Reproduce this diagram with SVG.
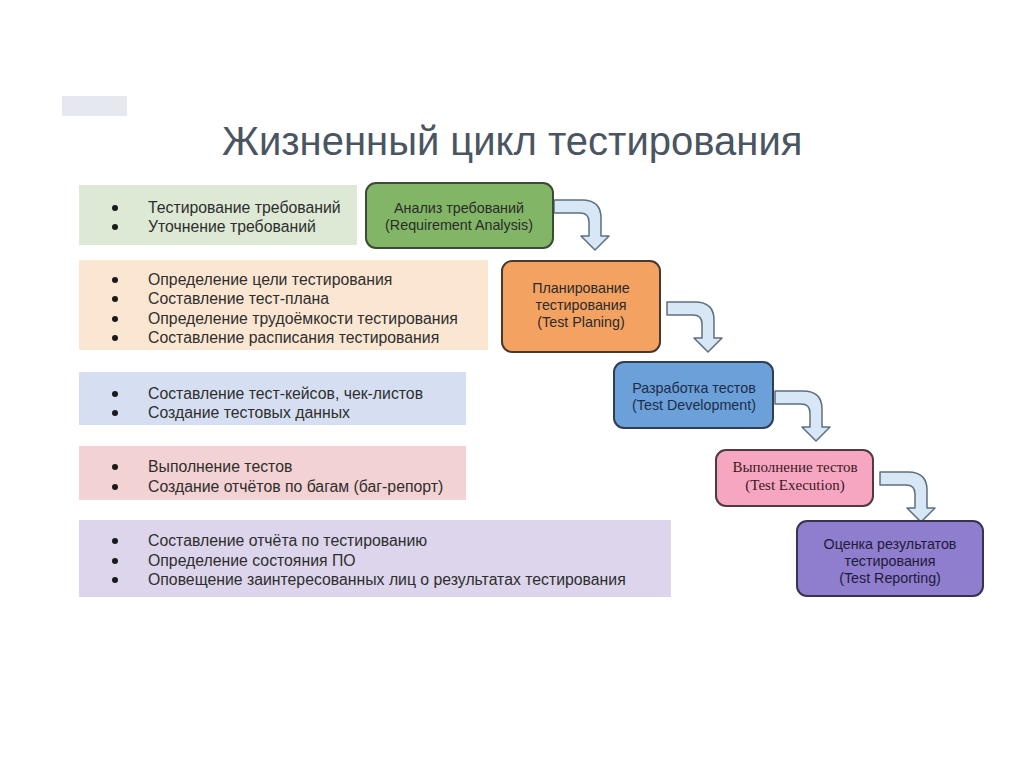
<svg xmlns="http://www.w3.org/2000/svg" width="1024" height="767" viewBox="0 0 1024 767">
<style>
.title{font-family:"Liberation Sans",Arial,sans-serif;font-size:40px;fill:#4a5562}
.lt{font-family:"Liberation Sans",Arial,sans-serif;font-size:15.8px;fill:#2e2e2e}
.bt{font-family:"Liberation Sans",Arial,sans-serif;font-size:14.3px;fill:#2a2a2a;text-anchor:middle}
.st{font-family:"Liberation Serif","Times New Roman",serif;font-size:15px;fill:#3a1a22;text-anchor:middle}
.node{stroke-width:2}
.arrow{fill:#d8e7f6;stroke:#5d6f80;stroke-width:1.5;stroke-linejoin:round}
.dot{fill:#1a1a1a}
</style>
<defs>
<path id="bent" d="M0,0 H28 Q47,0 47,18 V36 H55 L41,50 L27,36 H35 V22 Q35,13 26,13 H0 Z"/>
</defs>
<rect width="1024" height="767" fill="#ffffff"/>
<rect x="62" y="96" width="65" height="20" fill="#e5e8ee"/>
<text class="title" x="222" y="155">Жизненный цикл тестирования</text>

<g id="panel1">
<rect x="79" y="185" width="278" height="60" fill="#dde9d5"/>
<circle class="dot" cx="115" cy="208" r="3"/><circle class="dot" cx="115" cy="227" r="3"/>
<text class="lt" x="148" y="213">Тестирование требований</text>
<text class="lt" x="148" y="232">Уточнение требований</text>
</g>
<g id="panel2">
<rect x="79" y="260" width="409" height="90" fill="#fbe6d2"/>
<circle class="dot" cx="115" cy="280" r="3"/><circle class="dot" cx="115" cy="299" r="3"/><circle class="dot" cx="115" cy="319" r="3"/><circle class="dot" cx="115" cy="338" r="3"/>
<text class="lt" x="148" y="285">Определение цели тестирования</text>
<text class="lt" x="148" y="304">Составление тест-плана</text>
<text class="lt" x="148" y="324">Определение трудоёмкости тестирования</text>
<text class="lt" x="148" y="343">Составление расписания тестирования</text>
</g>
<g id="panel3">
<rect x="79" y="372" width="387" height="53" fill="#d6dff1"/>
<circle class="dot" cx="115" cy="394" r="3"/><circle class="dot" cx="115" cy="413" r="3"/>
<text class="lt" x="148" y="399">Составление тест-кейсов, чек-листов</text>
<text class="lt" x="148" y="418">Создание тестовых данных</text>
</g>
<g id="panel4">
<rect x="79" y="446" width="387" height="54" fill="#f2d2d2"/>
<circle class="dot" cx="115" cy="467" r="3"/><circle class="dot" cx="115" cy="487" r="3"/>
<text class="lt" x="148" y="472">Выполнение тестов</text>
<text class="lt" x="148" y="492">Создание отчётов по багам (баг-репорт)</text>
</g>
<g id="panel5">
<rect x="79" y="520" width="592" height="77" fill="#dcd5eb"/>
<circle class="dot" cx="115" cy="541" r="3"/><circle class="dot" cx="115" cy="561" r="3"/><circle class="dot" cx="115" cy="580" r="3"/>
<text class="lt" x="148" y="546">Составление отчёта по тестированию</text>
<text class="lt" x="148" y="566">Определение состояния ПО</text>
<text class="lt" x="148" y="585">Оповещение заинтересованных лиц о результатах тестирования</text>
</g>

<g id="connectors">
<use href="#bent" class="arrow" x="554" y="200"/>
<use href="#bent" class="arrow" x="667" y="302"/>
<use href="#bent" class="arrow" x="775" y="391"/>
<use href="#bent" class="arrow" x="880" y="472"/>
</g>

<g id="step1">
<rect class="node" x="366" y="183" width="187" height="65" rx="10" fill="#82b666" stroke="#3d4a35"/>
<text class="bt" x="459" y="213">Анализ требований</text>
<text class="bt" x="459" y="230">(Requirement Analysis)</text>
</g>
<g id="step2">
<rect class="node" x="502" y="261" width="158" height="91" rx="10" fill="#f4a261" stroke="#4a3a2e"/>
<text class="bt" x="581" y="293">Планирование</text>
<text class="bt" x="581" y="310">тестирования</text>
<text class="bt" x="581" y="327">(Test Planing)</text>
</g>
<g id="step3">
<rect class="node" x="614" y="362" width="159" height="66" rx="10" fill="#6ba0d9" stroke="#2f3e52"/>
<text class="bt" x="694" y="393" style="fill:#1e2d48">Разработка тестов</text>
<text class="bt" x="694" y="410" style="fill:#1e2d48">(Test Development)</text>
</g>
<g id="step4">
<rect class="node" x="716" y="450" width="157" height="56" rx="10" fill="#f6a6c1" stroke="#4e3a40"/>
<text class="st" x="795" y="472">Выполнение тестов</text>
<text class="st" x="795" y="490">(Test Execution)</text>
</g>
<g id="step5">
<rect class="node" x="797" y="521" width="186" height="75" rx="10" fill="#8f7dcd" stroke="#3a3350"/>
<text class="bt" x="890" y="549" style="fill:#1e1a3a">Оценка результатов</text>
<text class="bt" x="890" y="566" style="fill:#1e1a3a">тестирования</text>
<text class="bt" x="890" y="583" style="fill:#1e1a3a">(Test Reporting)</text>
</g>
</svg>
